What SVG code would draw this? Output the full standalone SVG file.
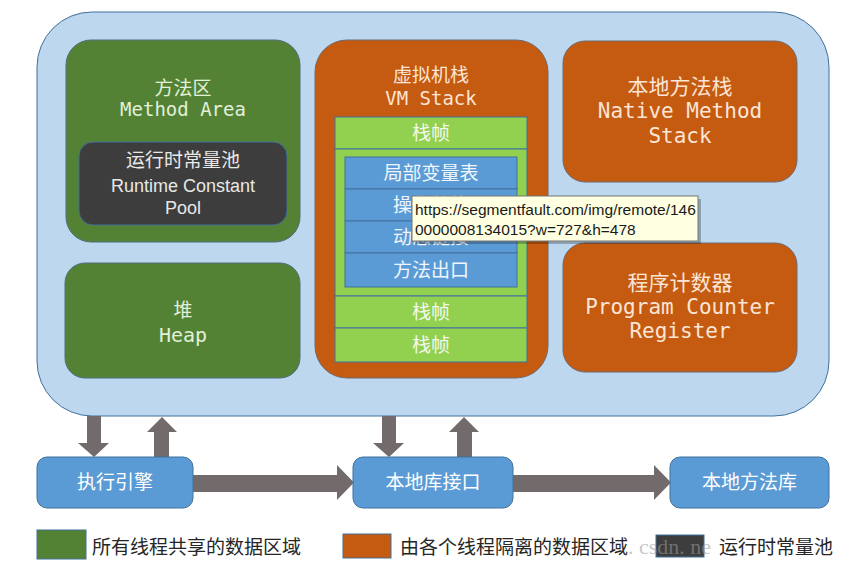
<svg xmlns="http://www.w3.org/2000/svg" width="862" height="577" viewBox="0 0 862 577">
<style>
.cjk{font-family:"Noto Sans CJK SC","Noto Sans",sans-serif;text-anchor:middle}
.mono{font-family:"DejaVu Sans Mono","Liberation Mono",monospace;text-anchor:middle}
.sans{font-family:"Liberation Sans","Noto Sans CJK SC",sans-serif;text-anchor:middle}
.green{fill:#548235;stroke:#4f6f7f;stroke-width:1}
.orange{fill:#C55A11;stroke:#6f6a70;stroke-width:1}
.lg{fill:#92D050;stroke:#41719C;stroke-width:1}
.blue{fill:#5B9BD5;stroke:#41719C;stroke-width:1}
.tg{fill:#E2F0D9}
.to{fill:#FBE5D6}
.tw{fill:#F4F9EE}
.tb{fill:#F0F6FC}
.arrow{fill:#736B6B}
.legend{font-family:"Noto Sans CJK SC",sans-serif;font-size:19px;fill:#262626}
</style>
<rect width="862" height="577" fill="#ffffff"/>

<g id="runtime-data-area">
<rect x="37" y="12" width="792" height="404" rx="55" fill="#BDD7EE" stroke="#41719C" stroke-width="1"/>
</g>

<g id="method-area">
<rect class="green" x="66" y="40" width="234" height="202" rx="25"/>
<text class="cjk tg" x="183" y="95" font-size="19">方法区</text>
<text class="mono tg" x="183" y="116" font-size="19">Method Area</text>
</g>

<g id="runtime-constant-pool">
<rect x="79" y="142" width="208" height="83" rx="14" fill="#3D3D3D" stroke="#41719C" stroke-width="1"/>
<text class="cjk" x="183" y="167" font-size="19" fill="#E8E8E8">运行时常量池</text>
<text class="sans" x="183" y="192" font-size="18" fill="#E8E8E8">Runtime Constant</text>
<text class="sans" x="183" y="214" font-size="18" fill="#E8E8E8">Pool</text>
</g>

<g id="heap">
<rect class="green" x="65" y="263" width="235" height="115" rx="20"/>
<text class="cjk tg" x="183" y="317" font-size="19">堆</text>
<text class="mono tg" x="183" y="342" font-size="20">Heap</text>
</g>

<g id="vm-stack">
<rect class="orange" x="315" y="40" width="233" height="338" rx="32"/>
<text class="cjk to" x="431" y="82" font-size="19">虚拟机栈</text>
<text class="mono to" x="431" y="105" font-size="19">VM Stack</text>
</g>

<g id="stack-frame-1">
<rect class="lg" x="335" y="117" width="192" height="32"/>
<text class="cjk tw" x="431" y="140" font-size="19">栈帧</text>
</g>

<g id="stack-frame-current">
<rect class="lg" x="335" y="149" width="192" height="147"/>
</g>

<g id="local-variables">
<rect class="blue" x="345" y="157" width="172" height="32"/>
<text class="cjk tb" x="431" y="180" font-size="19">局部变量表</text>
</g>
<g id="operand-stack">
<rect class="blue" x="345" y="189" width="172" height="32"/>
<text class="cjk tb" x="431" y="212" font-size="19">操作数栈</text>
</g>
<g id="dynamic-linking">
<rect class="blue" x="345" y="221" width="172" height="32"/>
<text class="cjk tb" x="431" y="244" font-size="19">动态链接</text>
</g>
<g id="return-address">
<rect class="blue" x="345" y="253" width="172" height="34"/>
<text class="cjk tb" x="431" y="277" font-size="19">方法出口</text>
</g>

<g id="stack-frame-2">
<rect class="lg" x="335" y="296" width="192" height="32"/>
<text class="cjk tw" x="431" y="319" font-size="19">栈帧</text>
</g>
<g id="stack-frame-3">
<rect class="lg" x="335" y="328" width="192" height="34"/>
<text class="cjk tw" x="431" y="352" font-size="19">栈帧</text>
</g>

<g id="native-method-stack">
<rect class="orange" x="563" y="41" width="234" height="141" rx="22"/>
<text class="cjk to" x="680" y="94" font-size="21">本地方法栈</text>
<text class="mono to" x="680" y="118" font-size="21">Native Method</text>
<text class="mono to" x="680" y="143" font-size="21">Stack</text>
</g>

<g id="program-counter">
<rect class="orange" x="563" y="243" width="234" height="129" rx="22"/>
<text class="cjk to" x="680" y="290" font-size="21">程序计数器</text>
<text class="mono to" x="680" y="314" font-size="21">Program Counter</text>
<text class="mono to" x="680" y="338" font-size="21">Register</text>
</g>

<g id="connectors">
<polygon class="arrow" points="87,416 101,416 101,443 109,443 94,457 78,443 87,443"/>
<polygon class="arrow" points="162,417 177,432 169,432 169,457 154,457 154,432 147,432"/>
<polygon class="arrow" points="382,416 396,416 396,443 404,443 389,457 373,443 382,443"/>
<polygon class="arrow" points="464,417 479,432 472,432 472,457 457,457 457,432 449,432"/>
<polygon class="arrow" points="193,475 337,475 337,465 354,482.5 337,500 337,492 193,492"/>
<polygon class="arrow" points="513,475 654,475 654,465 671,482.5 654,500 654,492 513,492"/>
</g>

<g id="execution-engine">
<rect class="blue" x="37" y="457" width="156" height="51" rx="10"/>
<text class="cjk" x="115" y="489" font-size="19" fill="#ffffff">执行引擎</text>
</g>
<g id="native-interface">
<rect class="blue" x="353" y="457" width="160" height="51" rx="10"/>
<text class="cjk" x="433" y="489" font-size="19" fill="#ffffff">本地库接口</text>
</g>
<g id="native-libraries">
<rect class="blue" x="670" y="457" width="159" height="51" rx="10"/>
<text class="cjk" x="749.5" y="489" font-size="19" fill="#ffffff">本地方法库</text>
</g>

<g id="tooltip">
<rect x="415" y="199" width="286" height="45" fill="#000000" opacity="0.25"/>
<rect x="412" y="196" width="286" height="45" fill="#FFFFE1" stroke="#767676" stroke-width="1"/>
<text x="415" y="215" font-family="Liberation Sans,sans-serif" font-size="15.5" fill="#1a1a1a">https://segmentfault.com/img/remote/146</text>
<text x="415" y="235" font-family="Liberation Sans,sans-serif" font-size="15.5" fill="#1a1a1a">0000008134015?w=727&amp;h=478</text>
</g>

<g id="legend">
<rect x="37" y="530" width="49" height="29" fill="#548235" stroke="#41719C" stroke-width="1"/>
<text class="legend" x="92" y="554">所有线程共享的数据区域</text>
<rect x="343" y="534" width="48" height="24" fill="#C55A11" stroke="#41719C" stroke-width="1"/>
<text class="legend" x="400" y="554">由各个线程隔离的数据区域</text>
<rect x="656" y="535" width="48" height="22" fill="#3D3D3D" stroke="#41719C" stroke-width="1"/>
<text class="legend" x="719" y="554">运行时常量池</text>
<text x="628" y="554" font-family="Liberation Serif,serif" font-size="22" fill="#9a9a9a" opacity="0.55">. csdn. ne</text>
</g>
</svg>
